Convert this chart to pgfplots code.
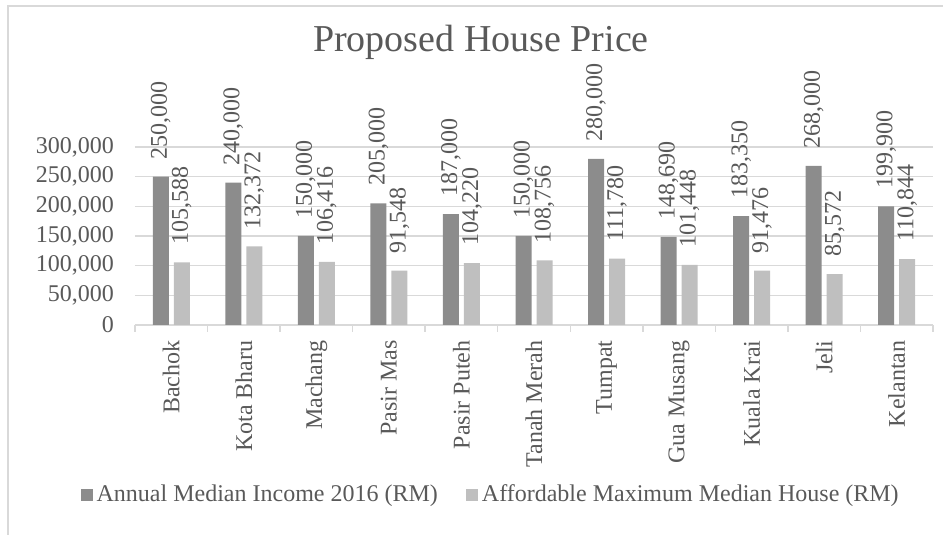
\documentclass[border=0pt]{standalone}
\usepackage{fontspec}
\setmainfont{Liberation Serif}
\usepackage{pgfplots}
\pgfplotsset{compat=1.18}
\definecolor{txt}{HTML}{595959}
\definecolor{grd}{HTML}{D9D9D9}
\definecolor{barA}{HTML}{8C8C8C}
\definecolor{barB}{HTML}{BFBFBF}
\begin{document}
\begin{tikzpicture}
\useasboundingbox (-67.5pt,-105pt) rectangle (404pt,162.5pt);
\draw[grd, line width=0.75pt] (-63.5pt,-105pt) -- (-63.5pt,159.5pt) -- (404pt,159.5pt);
\begin{axis}[
  at={(0,0)}, anchor=south west,
  scale only axis, width=399pt, height=89pt,
  ybar=2.5pt, bar width=8pt,
  xmin=-0.5, xmax=10.5, ymin=0, ymax=300000,
  ytick={0,50000,100000,150000,200000,250000,300000},
  xtick={0,...,10},
  xticklabels={Bachok, Kota Bharu, Machang, Pasir Mas, Pasir Puteh, Tanah Merah, Tumpat, Gua Musang, Kuala Krai, Jeli, Kelantan},
  minor xtick={-0.5,0.5,...,10.5},
  major tick length=0pt, minor tick length=3.5pt, tick align=outside,
  xtick style={draw=grd, line width=0.75pt},
  ytick style={draw=none},
  axis x line*=bottom, axis y line*=left,
  x axis line style={draw=grd, line width=0.75pt},
  y axis line style={draw=none},
  ymajorgrids, major grid style={draw=grd, line width=0.6pt},
  scaled y ticks=false,
  /pgf/number format/.cd, fixed, precision=0, 1000 sep={,}, assume math mode=true,
  /pgfplots/.cd,
  tick label style={font=\fontsize{12}{14}\selectfont, text=txt},
  yticklabel style={xshift=-7pt},
  xticklabel style={rotate=90, anchor=east, inner sep=0pt},
  xticklabel shift=7.5pt,
  nodes near coords,
  nodes near coords style={rotate=90, anchor=west, inner xsep=8.5pt, inner ysep=0pt, font=\fontsize{12}{14}\selectfont, text=txt},
  clip=false,
  legend style={at={(0.447,-0.955)}, anchor=center, draw=none, fill=none,
    legend columns=2, font=\fontsize{12}{14}\selectfont, text=txt,
    /tikz/every even column/.append style={column sep=12pt}},
  legend cell align=left,
  legend image code/.code={\fill[#1] (0pt,-3pt) rectangle (6pt,3pt);},
]
\addplot[fill=barA, draw=none] coordinates {(0,250000) (1,240000) (2,150000) (3,205000) (4,187000) (5,150000) (6,280000) (7,148690) (8,183350) (9,268000) (10,199900)};
\addplot[fill=barB, draw=none] coordinates {(0,105588) (1,132372) (2,106416) (3,91548) (4,104220) (5,108756) (6,111780) (7,101448) (8,91476) (9,85572) (10,110844)};
\legend{Annual Median Income 2016 (RM), Affordable Maximum Median House (RM)}
\end{axis}
\node[anchor=base, font=\fontsize{19}{22}\selectfont, text=txt] at (173pt,136.5pt) {Proposed House Price};
\end{tikzpicture}
\end{document}
